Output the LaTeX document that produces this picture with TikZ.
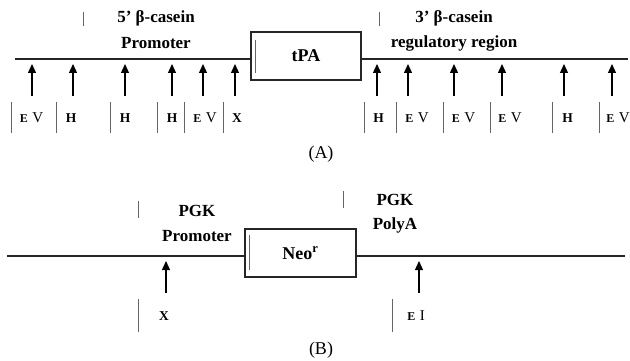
\documentclass[tikz,border=0pt]{standalone}
\usepackage{fontspec}
\setmainfont{Liberation Serif}
\usetikzlibrary{arrows.meta}

\begin{document}
\begin{tikzpicture}[x=1pt, y=-1pt]
        \tikzstyle{dna_line} = [line width=1.5pt, draw=black!85]
        \tikzstyle{gene_box} = [draw=black!85, line width=1.5pt, minimum width=110pt, minimum height=48pt, inner sep=0pt, font=\fontsize{18}{20}\selectfont\bfseries]
        \tikzstyle{site_arrow} = [-{Triangle[length=9pt, width=8pt]}, line width=1.3pt]
        \tikzstyle{site_label} = [inner sep=0pt, font=\fontsize{13.5}{15}\selectfont\bfseries]
        \tikzstyle{region_label} = [inner sep=0pt, font=\fontsize{17}{19}\selectfont\bfseries]
        \tikzstyle{site_tick} = [line width=0.8pt, draw=black!60]
        \tikzstyle{panel_label} = [inner sep=0pt, font=\fontsize{18}{20}\selectfont]

        \useasboundingbox (0,0) rectangle (630,361);

        % (A) beta-casein / tPA construct
        \coordinate (a_start) at (15, 59);
        \coordinate (a_end) at (628, 59);

        \node[gene_box] at (306, 56) (tpa) {tPA};

        \draw[dna_line] (a_start) -- (a_start -| tpa.west);
        \draw[dna_line] (tpa.east |- a_end) -- (a_end);
        \draw[site_tick] (255, 40) -- (255, 73);

        \draw[site_tick] (83, 12) -- (83, 26);
        \node[region_label] at (156, 18) (prom5_l1) {5’ β-casein};
        \node[region_label] at (156, 43) (prom5_l2) {Promoter};

        \draw[site_tick] (379, 12) -- (379, 26);
        \node[region_label] at (454, 18) (reg3_l1) {3’ β-casein};
        \node[region_label] at (454, 43) (reg3_l2) {regulatory region};

        \coordinate (a1) at (32, 96);
        \coordinate (a2) at (73, 96);
        \coordinate (a3) at (125, 96);
        \coordinate (a4) at (172, 96);
        \coordinate (a5) at (203, 96);
        \coordinate (a6) at (235, 96);
        \coordinate (a7) at (377, 96);
        \coordinate (a8) at (408, 96);
        \coordinate (a9) at (454, 96);
        \coordinate (a10) at (502, 96);
        \coordinate (a11) at (564, 96);
        \coordinate (a12) at (612, 96);

        \draw[site_arrow] (a1) -- (a1 |- 0,64);
        \draw[site_arrow] (a2) -- (a2 |- 0,64);
        \draw[site_arrow] (a3) -- (a3 |- 0,64);
        \draw[site_arrow] (a4) -- (a4 |- 0,64);
        \draw[site_arrow] (a5) -- (a5 |- 0,64);
        \draw[site_arrow] (a6) -- (a6 |- 0,64);
        \draw[site_arrow] (a7) -- (a7 |- 0,64);
        \draw[site_arrow] (a8) -- (a8 |- 0,64);
        \draw[site_arrow] (a9) -- (a9 |- 0,64);
        \draw[site_arrow] (a10) -- (a10 |- 0,64);
        \draw[site_arrow] (a11) -- (a11 |- 0,64);
        \draw[site_arrow] (a12) -- (a12 |- 0,64);

        \node[site_label] at (31.5, 118) (s1) {{\fontsize{12}{13}\selectfont E}\,\,{\mdseries\fontsize{15}{15}\selectfont V}};
        \node[site_label] at (71, 118) (s2) {H};
        \node[site_label] at (125, 118) (s3) {H};
        \node[site_label] at (172, 118) (s4) {H};
        \node[site_label] at (205, 118) (s5) {{\fontsize{12}{13}\selectfont E}\,\,{\mdseries\fontsize{15}{15}\selectfont V}};
        \node[site_label] at (237, 118) (s6) {X};
        \node[site_label] at (378.5, 118) (s7) {H};
        \node[site_label] at (417, 118) (s8) {{\fontsize{12}{13}\selectfont E}\,\,{\mdseries\fontsize{15}{15}\selectfont V}};
        \node[site_label] at (463.5, 118) (s9) {{\fontsize{12}{13}\selectfont E}\,\,{\mdseries\fontsize{15}{15}\selectfont V}};
        \node[site_label] at (510, 118) (s10) {{\fontsize{12}{13}\selectfont E}\,\,{\mdseries\fontsize{15}{15}\selectfont V}};
        \node[site_label] at (567.5, 118) (s11) {H};
        \node[site_label] at (618, 118) (s12) {{\fontsize{12}{13}\selectfont E}\,\,{\mdseries\fontsize{15}{15}\selectfont V}};

        \draw[site_tick] (11, 102) -- (11, 133);
        \draw[site_tick] (56, 102) -- (56, 133);
        \draw[site_tick] (110, 102) -- (110, 133);
        \draw[site_tick] (157, 102) -- (157, 133);
        \draw[site_tick] (184, 102) -- (184, 133);
        \draw[site_tick] (223, 102) -- (223, 133);
        \draw[site_tick] (364, 102) -- (364, 133);
        \draw[site_tick] (396, 102) -- (396, 133);
        \draw[site_tick] (443, 102) -- (443, 133);
        \draw[site_tick] (490, 102) -- (490, 133);
        \draw[site_tick] (552, 102) -- (552, 133);
        \draw[site_tick] (599, 102) -- (599, 133);

        \node[panel_label] at (321, 154) (cap_a) {(A)};

        % (B) PGK / Neo cassette
        \coordinate (b_start) at (7, 256);
        \coordinate (b_end) at (625, 256);

        \node[gene_box, minimum width=111pt] at (300.5, 253) (neo) {Neo\textsuperscript{r}};

        \draw[dna_line] (b_start) -- (b_start -| neo.west);
        \draw[dna_line] (neo.east |- b_end) -- (b_end);
        \draw[site_tick] (249, 235) -- (249, 270);

        \draw[site_tick] (138, 201) -- (138, 218);
        \node[region_label] at (197, 211) (pgkp_l1) {PGK};
        \node[region_label] at (197, 236) (pgkp_l2) {Promoter};

        \draw[site_tick] (343, 191) -- (343, 208);
        \node[region_label] at (395, 200) (pgka_l1) {PGK};
        \node[region_label] at (395, 225) (pgka_l2) {PolyA};

        \coordinate (b1) at (166, 293);
        \coordinate (b2) at (419, 293);

        \draw[site_arrow] (b1) -- (b1 |- 0,261);
        \draw[site_arrow] (b2) -- (b2 |- 0,261);

        \node[site_label] at (164, 316) (t1) {X};
        \node[site_label] at (416, 316) (t2) {{\fontsize{12}{13}\selectfont E}\,\,{\mdseries\fontsize{15}{15}\selectfont I}};

        \draw[site_tick] (138, 299) -- (138, 332);
        \draw[site_tick] (392, 299) -- (392, 332);

        \node[panel_label] at (321, 350) (cap_b) {(B)};
      \end{tikzpicture}
\end{document}
